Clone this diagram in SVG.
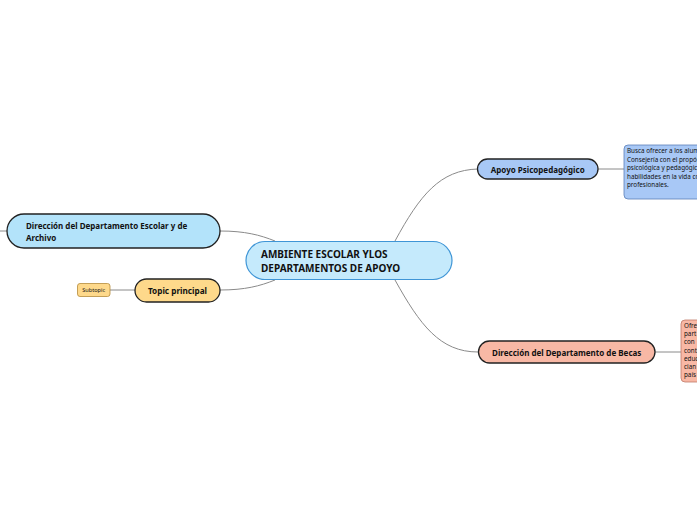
<svg xmlns="http://www.w3.org/2000/svg" width="697" height="520" viewBox="0 0 697 520">
<style>
text{font-family:"Noto Sans","Open Sans","DejaVu Sans",sans-serif;fill:#111}
.b{font-weight:bold}
.c{fill:none;stroke:#8a8a8a;stroke-width:1}
.n{stroke:#222;stroke-width:1.3}
.note{font-size:6.3px}
</style>
<rect width="697" height="520" fill="#fff"/>
<g id="connectors">
<path class="c" d="M395,241 C420,195 440,170 478,169"/>
<path class="c" d="M395,280 C420,325 440,352 478,352"/>
<path class="c" d="M220,231 C245,231 260,235 275,241"/>
<path class="c" d="M220,290 C245,290 260,286 275,280"/>
<path class="c" d="M0,231 L7,231"/>
<path class="c" d="M110,290 L135,290"/>
<path class="c" d="M598,169 L624,169"/>
<path class="c" d="M655,352 L681,352"/>
</g>
<g id="central">
<rect x="246" y="241.5" width="206" height="38" rx="19" fill="#c5eafc" stroke="#3f95d6" stroke-width="1.2"/>
<text class="b" x="261" y="258" font-size="10">AMBIENTE ESCOLAR YLOS</text>
<text class="b" x="261" y="272" font-size="10">DEPARTAMENTOS DE APOYO</text>
</g>
<g id="escolar">
<rect x="7" y="214" width="213" height="34" rx="17" fill="#b3e3fa" class="n"/>
<text class="b" x="26" y="229" font-size="8">Dirección del Departamento Escolar y de</text>
<text class="b" x="26" y="241" font-size="8">Archivo</text>
</g>
<g id="topic">
<rect x="135" y="279" width="85" height="23" rx="11.5" fill="#fed98b" class="n"/>
<text class="b" x="177.5" y="293.5" font-size="8.2" text-anchor="middle">Topic principal</text>
</g>
<g id="subtopic">
<rect x="77.5" y="283.5" width="32.5" height="13" rx="2.5" fill="#fed98b" stroke="#b58b3b" stroke-width="0.8"/>
<text x="93.7" y="292.3" font-size="5.6" text-anchor="middle">Subtopic</text>
</g>
<g id="apoyo">
<rect x="477.5" y="159" width="120.5" height="20" rx="10" fill="#a8c8f6" class="n"/>
<text class="b" x="537.7" y="172.5" font-size="8" text-anchor="middle">Apoyo Psicopedagógico</text>
</g>
<g id="apoyo-note">
<rect x="624" y="145" width="90" height="54" rx="4" fill="#a8c8f6" stroke="#5a7fb8" stroke-width="0.8"/>
<text class="note" x="627" y="152.5">Busca ofrecer a los alum</text>
<text class="note" x="627" y="161.5">Consejería con el propósi</text>
<text class="note" x="627" y="170">psicológica y pedagógica</text>
<text class="note" x="627" y="178.5">habilidades en la vida co</text>
<text class="note" x="627" y="187">profesionales.</text>
</g>
<g id="becas">
<rect x="478.5" y="341" width="176.5" height="22" rx="11" fill="#f8b8a5" class="n"/>
<text class="b" x="566.7" y="355.5" font-size="8" text-anchor="middle">Dirección del Departamento de Becas</text>
</g>
<g id="becas-note">
<rect x="681" y="320" width="40" height="62" rx="4" fill="#f8b8a5" stroke="#c07a68" stroke-width="0.8"/>
<text class="note" x="684" y="328">Ofre</text>
<text class="note" x="684" y="336.2">part</text>
<text class="note" x="684" y="344.4">con</text>
<text class="note" x="684" y="352.6">cont</text>
<text class="note" x="684" y="360.8">educ</text>
<text class="note" x="684" y="369">cian</text>
<text class="note" x="684" y="377.2">país</text>
</g>
</svg>
